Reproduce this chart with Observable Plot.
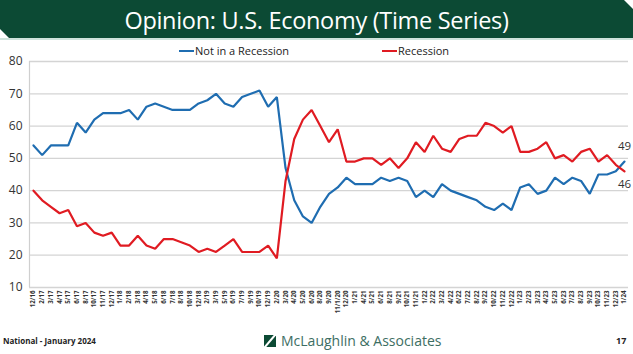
<!DOCTYPE html>
<html>
<head>
<meta charset="utf-8">
<script src="https://cdn.jsdelivr.net/npm/d3@7"></script>
<script src="https://cdn.jsdelivr.net/npm/@observablehq/plot@0.6"></script>
<style>
  html, body { margin: 0; padding: 0; background: #fff; width: 633px; height: 354px; overflow: hidden; font-family: Lato, "Open Sans", sans-serif; }
  #banner { position: absolute; left: 0; top: 0; width: 633px; height: 38px; background: #0c4a34;
    clip-path: polygon(0 0, 624px 0, 633px 9px, 633px 38px, 9px 38px, 0 29px); }
  #bannerline { position: absolute; left: 0; top: 38px; width: 633px; height: 2px; background: #cfe3dc; }
  #title { position: absolute; left: 0; top: 4px; width: 633px; text-align: center; color: #fff; font-size: 23.5px; font-family: "Open Sans", Lato, sans-serif; letter-spacing: -0.3px; }
  #chart { position: absolute; left: 0; top: 40px; }
  .legend { position: absolute; top: 43px; font-size: 11px; color: #222; display: flex; align-items: center; font-family: "Open Sans", sans-serif; }
  .legend span.sw { display: inline-block; width: 15px; height: 2px; margin-right: 1px; }
  #footL { position: absolute; left: 3px; top: 335px; font-size: 8px; font-weight: bold; color: #222; font-family: "Open Sans", sans-serif; }
  #footR { position: absolute; left: 616px; top: 334px; font-size: 9px; font-weight: bold; color: #222; font-family: "Open Sans", sans-serif; }
  #logo { position: absolute; left: 264px; top: 331px; display: flex; align-items: center; color: #3d6e63; font-size: 14px; font-family: "Open Sans", sans-serif; }
  #logo .box { width: 12px; height: 12px; background: #0c4a34; margin-right: 5px; position: relative; overflow: hidden; }
  #logo .box::after { content: ""; position: absolute; left: 5px; top: -3px; width: 2px; height: 18px; background: #fff; transform: rotate(40deg); }
</style>
</head>
<body>
<div id="banner"></div>
<div id="bannerline"></div>
<div id="title">Opinion: U.S. Economy (Time Series)</div>
<div class="legend" style="left:179px"><span class="sw" style="background:#1f6db1"></span>Not in a Recession</div>
<div class="legend" style="left:382px"><span class="sw" style="background:#e01b22"></span>Recession</div>
<div id="chart"></div>
<div id="footL">National - January 2024</div>
<div id="logo"><div class="box"></div>McLaughlin &amp; Associates</div>
<div id="footR">17</div>
<script>
const dates = ["12/16","2/17","3/17","4/17","5/17","6/17","8/17","10/17","11/17","12/17",
  "1/18","2/18","3/18","4/18","5/18","6/18","7/18","8/18","10/18","12/18",
  "2/19","3/19","5/19","6/19","7/19","9/19","10/19","12/19","2/20","3/20",
  "4/20","5/20","6/20","8/20","9/20","11/1/20","12/20","1/21","4/21","5/21",
  "6/21","8/21","9/21","10/21","11/21","1/22","2/22","3/22","4/22","6/22",
  "7/22","8/22","9/22","10/22","11/22","12/22","1/23","2/23","3/23","4/23",
  "5/23","6/23","7/23","8/23","9/23","10/23","11/23","12/23","1/24"];
const notRecession = [54,51,54,54,54,61,58,62,64,64,
  64,65,62,66,67,66,65,65,65,67,
  68,70,67,66,69,70,71,66,69,47,
  37,32,30,35,39,41,44,42,42,42,
  44,43,44,43,38,40,38,42,40,39,
  38,37,35,34,36,34,41,42,39,40,
  44,42,44,43,39,45,45,46,49];
const recession = [40,37,35,33,34,29,30,27,26,27,
  23,23,26,23,22,25,25,24,23,21,
  22,21,23,25,21,21,21,23,19,43,
  56,62,65,60,55,59,49,49,50,50,
  48,50,47,50,55,52,57,53,52,56,
  57,57,61,60,58,60,52,52,53,55,
  50,51,49,52,53,49,51,48,46];
const yTicks = [10,20,30,40,50,60,70,80];
const seriesNames = ["Not in a Recession","Recession"];
const colors = ["#1f6db1","#e01b22"];

const rows = [];
dates.forEach((d,i) => {
  rows.push({date: d, value: notRecession[i], series: seriesNames[0]});
  rows.push({date: d, value: recession[i], series: seriesNames[1]});
});
const last = dates.length - 1;
const endBlue = [{date: dates[last], value: notRecession[last]}];
const endRed = [{date: dates[last], value: recession[last]}];

const plot = Plot.plot({
  width: 633,
  height: 285,
  marginLeft: 29,
  marginRight: 5,
  marginTop: 21,
  marginBottom: 38,
  style: {fontFamily: "'Open Sans', sans-serif", background: "transparent"},
  x: {type: "point", domain: dates, padding: 0.46, label: null},
  y: {domain: [10, 80], label: null},
  color: {domain: seriesNames, range: colors},
  marks: [
    Plot.ruleY(yTicks, {stroke: "#d4d4d4", strokeWidth: 1.3}),
    Plot.ruleX([dates[0]], {dx: -4, stroke: "#cfcfcf", strokeWidth: 1.2}),
    Plot.axisY({ticks: yTicks, tickSize: 0, tickPadding: 7, fontSize: 12, fill: "#333", label: null}),
    Plot.axisX({tickSize: 0, tickRotate: -90, tickPadding: 3, fontSize: 6.2, fontWeight: "bold", fill: "#333", label: null}),
    Plot.line(rows, {x: "date", y: "value", z: "series", stroke: "series", strokeWidth: 2.2, strokeLinejoin: "miter"}),
    Plot.text(endBlue, {x: "date", y: "value", dy: -15, text: d => String(d.value), fontSize: 11.5, fill: "#333"}),
    Plot.text(endRed, {x: "date", y: "value", dy: 13, text: d => String(d.value), fontSize: 11.5, fill: "#333"})
  ]
});
document.getElementById("chart").appendChild(plot);
</script>
</body>
</html>
